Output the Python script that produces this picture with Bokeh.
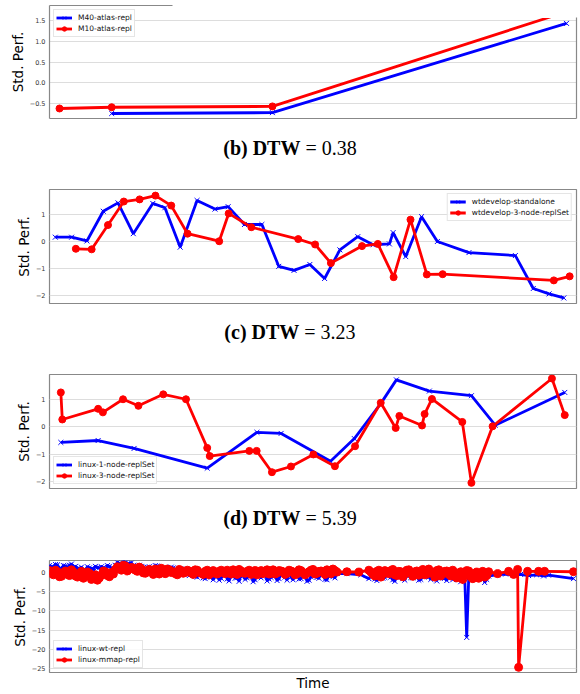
from bokeh.plotting import figure
from bokeh.models import (FixedTicker, LinearAxis, Range1d, CustomJSTickFormatter, Div)
from bokeh.layouts import column
from bokeh.embed import file_html
from bokeh.resources import INLINE

BLUE = "#0000ff"
RED = "#ff0000"
SPINE = "#888888"
GRID = "#dddddd"

# ---------------- data (time in % of run span) ----------------
# panel (a)
a_labels = ["M40-atlas-repl", "M10-atlas-repl"]
a_t_blue = [11.8, 42.3, 98.1]
a_v_blue = [-0.74, -0.72, 1.43]
a_t_red = [1.9, 11.8, 42.3, 98.1]
a_v_red = [-0.62, -0.59, -0.57, 1.71]
a_ticks = [-0.5, 0.0, 0.5, 1.0, 1.5]

# panel (b)
b_caption = ("(b) DTW", "= 0.38")
b_labels = ["wtdevelop-standalone", "wtdevelop-3-node-replSet"]
b_t_blue = [1.1, 4.2, 7.1, 10.2, 13.0, 15.9, 19.6, 21.9, 24.8, 28.0, 31.4, 33.9,
            37.0, 40.3, 43.5, 46.4, 49.4, 52.2, 55.1, 58.5, 61.4, 64.5, 65.2,
            67.6, 70.6, 73.6, 79.6, 88.4, 91.8, 94.8, 97.6]
b_v_blue = [0.16, 0.16, 0.02, 1.12, 1.43, 0.29, 1.41, 1.25, -0.21, 1.52, 1.20, 1.29,
            0.63, 0.63, -0.92, -1.07, -0.85, -1.37, -0.31, 0.18, -0.12, -0.09, 0.33,
            -0.56, 0.92, 0.0, -0.41, -0.52, -1.74, -1.94, -2.09]
b_t_red = [5.0, 8.0, 11.1, 14.1, 17.1, 20.1, 23.1, 26.2, 32.2, 34.0, 38.3, 47.2,
           50.4, 53.4, 59.3, 62.3, 65.3, 68.5, 71.6, 74.6, 95.7, 98.7]
b_v_red = [-0.27, -0.29, 0.61, 1.48, 1.56, 1.70, 1.33, 0.29, 0.01, 1.04, 0.53, 0.09,
           -0.11, -0.80, -0.17, -0.09, -1.32, 0.81, -1.22, -1.21, -1.44, -1.29]
b_ticks = [-2, -1, 0, 1]

# panel (c)
c_caption = ("(c) DTW", "= 3.23")
c_labels = ["linux-1-node-replSet", "linux-3-node-replSet"]
c_t_blue = [2.15, 9.23, 16.05, 29.93, 39.36, 43.95, 53.33, 57.85, 62.85, 65.82,
            72.08, 80.06, 84.57, 97.77]
c_v_blue = [-0.57, -0.50, -0.79, -1.51, -0.20, -0.24, -1.26, -0.43, 0.85, 1.72,
            1.31, 1.14, 0.06, 1.26]
c_t_red = [2.15, 2.43, 9.23, 10.13, 13.95, 16.87, 21.59, 25.90, 29.93, 30.41,
           37.92, 39.31, 42.21, 45.82, 50.07, 54.16, 57.98, 62.85, 65.69, 66.39,
           70.69, 71.18, 72.57, 78.33, 80.06, 84.08, 95.34, 97.77]
c_v_red = [1.26, 0.27, 0.66, 0.53, 1.01, 0.77, 1.19, 1.01, -0.77, -1.07,
           -0.88, -0.88, -1.66, -1.45, -1.01, -1.44, -0.71, 0.88, -0.04, 0.40,
           0.05, 0.47, 1.02, 0.18, -2.05, 0.02, 1.77, 0.43]
c_ticks = [-2, -1, 0, 1]

# panel (d)  (time in sample units)
d_caption = ("(d) DTW", "= 5.39")
d_labels = ["linux-wt-repl", "linux-mmap-repl"]
d_t_blue = (list(range(0, 73)) + [x + 0.5 for x in range(0, 72)] + [74.5, 78] +
            list(range(80, 105)) + [x + 0.5 for x in range(80, 104)] +
            [104.5, 105, 106, 107, 108, 109, 110] +
            [x + 0.5 for x in range(105, 110)] +
            [112.25, 114.25, 116.25, 118, 120, 122, 123.75, 125, 131.25])
d_v_blue = ([1.8, 1.4, 2.0, 1.1, 1.7, 1.9, 1.3,
             0.9, 1.4, 0.6, 1.2, 0.8, 1.3,
             1.5, 0.9, 1.6, 1.2,
             2.6, 2.1, 2.7, 2.3,
             1.8, 1.2, 1.6, 0.9, 1.5, 1.1, 1.7, 0.8, 1.3, 0.6, 1.2, 0.4, 0.9, 0.2,
             -0.8, 0.1, -1.2, -0.3, -1.6, -0.5,
             -1.9, -0.4, -1.5, 0.2, -2.2, -0.8, -1.3, 0.1, -1.8, -0.6, -2.4, -0.2,
             -1.4, 0.3, -1.7, -0.9, -2.1, -0.3, -1.2, 0.2, -1.9, -0.5, -1.6, 0.0,
             -2.0, -0.7, -1.3, 0.1, -1.8, -0.4, -1.1, -0.2] +
            [1.5, 2.1, 1.0, 1.8, 1.3, 2.2, 1.6,
             1.1, 0.7, 1.5, 1.0, 1.6, 1.2,
             1.3, 1.8, 1.0, 1.9,
             2.4, 2.8, 2.2, 2.5,
             1.5, 1.9, 1.2, 1.4, 1.0, 1.8, 1.2, 0.9, 1.0, 1.4, 0.6, 0.8, 0.1, 0.5,
             -0.4, -1.0, 0.0, -1.4, -0.8, -1.2,
             -1.1, -2.0, -0.6, -1.7, -0.3, -1.5, -2.3, -0.9, -1.4, -0.2, -1.9, -1.0,
             -0.5, -2.2, -1.3, -0.6, -1.6, -0.1, -2.0, -1.2, -0.8, -1.7, -0.4, -2.3,
             -1.1, -0.6, -1.5, -0.3, -1.9, -0.9, -1.4] +
            [-0.3, -0.6] +
            [-1.6, -0.4, -2.1, -0.8, -1.3, -0.2, -1.9, -0.6, -1.1, -2.0, -0.5, -1.4,
             -0.3, -1.8, -0.9, -1.2, -0.4, -2.2, -0.7, -1.5, -0.6, -1.9, -0.8, -2.4,
             -1.0] +
            [-0.9, -1.7, -0.3, -1.5, -0.7, -1.2, -2.3, -0.5, -1.6, -0.8, -1.3, -0.2,
             -2.0, -1.0, -0.6, -1.8, -1.1, -0.3, -1.4, -2.1, -0.7, -1.2, -0.5, -1.7] +
            [-16.9, -1.5, -0.8, -1.2, -0.5, -2.6, -0.9] +
            [-1.9, -0.6, -1.5, -0.4, -1.8] +
            [-0.6, -0.4, -0.7, -0.5, -0.8, -0.6, -0.9, -0.7, -1.6])
d_t_red = (list(range(0, 73)) + [x + 0.5 for x in range(0, 72)] + [74.5, 77.5] +
           list(range(80, 111)) + [x + 0.5 for x in range(80, 110)] +
           [112.25, 115, 116.25, 117.25, 117.5, 119.75, 122.5, 124, 131.25])
d_v_red = ([0.5, -0.6, 0.2, -1.0, 0.4, -0.8, 0.1,
            -1.2, 0.3, -0.9, -0.2, -1.3, -2.0,
            -0.7, 0.2, -1.1, -0.4,
            1.5, 0.6, 1.7, 0.9,
            1.2, 0.3, 1.0, -0.2, 0.8, -0.5, 0.6, 1.1, -0.3, 0.7, 0.2, -0.6, 0.5, 0.0,
            0.4, -0.5, 0.6, -0.2, 0.3, -0.6,
            0.5, -0.4, 0.6, -0.3, 0.2, 0.7, -0.5, 0.4, -0.2, 0.6, 0.0, -0.6, 0.5,
            0.3, -0.4, 0.7, -0.1, 0.4, -0.5, 0.6, 0.1, -0.3, 0.5, -0.6, 0.2, 0.8,
            -0.2, 0.4, -0.5, 0.3, 0.9, 0.1] +
           [-0.3, 0.6, -1.1, 0.0, -0.5, 0.7, -0.9,
            -0.4, -1.5, 0.1, -1.8, -0.6, -1.4,
            0.4, -0.8, 0.0, 0.8,
            1.1, 1.9, 0.4, 1.3,
            0.6, 1.4, -0.1, 0.5, 0.2, 0.9, -0.4, 0.4, 0.9, 0.0, -0.3, 0.8, -0.2, 0.6,
            -0.1, 0.7, 0.0, -0.5, 0.6, 0.2,
            -0.2, 0.3, 0.0, 0.6, -0.4, 0.1, 0.8, -0.1, 0.3, -0.5, 0.5, 0.2, -0.3,
            0.7, 0.0, -0.4, 0.5, 0.2, -0.2, 0.4, -0.6, 0.7, 0.0, -0.2, 0.6, -0.4,
            0.3, 0.1, 0.7, -0.3, 0.5] +
           [0.2, 0.1] +
           [0.6, -0.5, 0.3, -1.2, 0.5, -0.3, 0.8, -0.8, 0.2, -0.4, 0.7, -1.0, 0.4,
            0.0, -0.6, 0.9, -0.2, 0.5, -0.9, 0.3, -0.5, 0.6, -1.4, 0.2, -0.7, 0.4,
            -1.6, 0.1, -0.3, -1.2, 0.2] +
           [0.1, -0.9, 0.6, -0.4, 0.0, 0.5, -0.6, 0.3, -1.1, 0.6,
            -0.2, 0.2, -0.7, 0.8, -0.4, 0.1, -1.2, 0.7, -0.1, 0.4,
            -0.9, 0.0, -0.5, -1.8, 0.5, -1.1, -0.2, -1.5, 0.3, -0.8] +
           [-0.3, 0.3, -0.5, 0.8, -24.7, 0.3, 0.3, 0.3, 0.2])
d_ticks = [-25, -20, -15, -10, -5, 0]


def ordered(t, v):
    n = min(len(t), len(v))
    pairs = sorted(zip(t[:n], v[:n]), key=lambda pv: pv[0])
    return [pv[0] for pv in pairs], [pv[1] for pv in pairs]


FMT = """
const s = Math.abs(tick).toFixed(dec);
return (tick < 0) ? "\u2212" + s : s;
"""

W = 580


def make_fig(tb, vb, tr, vr, labels, xr, yr, ticks, dec, frame_left, top, fh,
             bottom, legend_loc, label_standoff, red_size=7):
    p = figure(width=W, height=top + fh + bottom,
               x_range=Range1d(*xr), y_range=Range1d(*yr),
               output_backend="svg", toolbar_location=None,
               min_border_left=frame_left, min_border_right=4,
               min_border_top=top, min_border_bottom=bottom,
               background_fill_color="white", border_fill_color="white")
    p.outline_line_color = SPINE
    p.outline_line_width = 1.2
    p.xgrid.visible = False
    p.ygrid.ticker = FixedTicker(ticks=ticks)
    p.ygrid.grid_line_color = GRID
    p.ygrid.grid_line_width = 1.2
    ya = p.yaxis[0]
    ya.ticker = FixedTicker(ticks=ticks)
    ya.formatter = CustomJSTickFormatter(args=dict(dec=dec), code=FMT)
    ya.major_label_text_font = "DejaVu Sans"
    ya.major_label_text_font_size = "6.5px"
    ya.major_label_text_color = "#333333"
    ya.major_tick_out = 0
    ya.major_tick_in = 0
    ya.minor_tick_out = 0
    ya.minor_tick_in = 0
    ya.major_label_standoff = 4
    ya.axis_line_color = None
    ya.axis_label = "Std. Perf."
    ya.axis_label_text_font = "DejaVu Sans"
    ya.axis_label_text_font_size = "13.5px"
    ya.axis_label_text_font_style = "normal"
    ya.axis_label_text_color = "black"
    ya.axis_label_standoff = label_standoff

    tb, vb = ordered(tb, vb)
    tr, vr = ordered(tr, vr)
    p.line(tb, vb, line_color=BLUE, line_width=2.8, legend_label=labels[0])
    p.scatter(tb, vb, marker="x", size=7, line_color=BLUE, line_width=1,
              legend_label=labels[0])
    p.line(tr, vr, line_color=RED, line_width=2.8, legend_label=labels[1])
    p.scatter(tr, vr, marker="circle", size=red_size, fill_color=RED, line_color=RED,
              legend_label=labels[1])

    lg = p.legend[0]
    lg.location = legend_loc
    lg.margin = 4
    lg.padding = 2
    lg.spacing = 0
    lg.glyph_width = 16
    lg.glyph_height = 11
    lg.label_height = 11
    lg.label_standoff = 6
    lg.label_text_font = "DejaVu Sans"
    lg.label_text_font_size = "7.5px"
    lg.label_text_color = "#111111"
    lg.border_line_color = "#cccccc"
    lg.border_line_width = 1
    lg.background_fill_alpha = 0.85
    return p


def caption(parts):
    bold, rest = parts
    return Div(text='<span style="font-weight:bold">%s</span> %s' % (bold, rest),
               width=W, height=20, margin=0,
               styles={"font-family": "'Liberation Serif', serif",
                       "font-size": "20px", "line-height": "20px",
                       "text-align": "center", "color": "black"})


def bare_axis(bounds):
    return LinearAxis(ticker=FixedTicker(ticks=[]), bounds=bounds,
                      axis_line_color=SPINE, axis_line_width=1.2,
                      major_tick_out=0, minor_tick_out=0, major_label_standoff=0)


# ---------------- panel (a): its top edge is cropped ----------------
a_xr = (0, 100)
a_yr = (-0.861, 1.861)
cut_x = 23.3     # where the cropped top edge stops
cut_y = 1.56
p1 = make_fig(a_t_blue, a_v_blue, a_t_red, a_v_red, a_labels, a_xr, a_yr,
              a_ticks, 1, 49, 5, 113, 20, "top_left", 1)
p1.outline_line_color = None
p1.yaxis[0].axis_line_color = SPINE
p1.yaxis[0].axis_line_width = 1.2
xa = p1.xaxis[0]
xa.ticker = FixedTicker(ticks=[])
xa.axis_line_color = SPINE
xa.axis_line_width = 1.2
xa.major_tick_out = 0
xa.minor_tick_out = 0
xa.major_label_standoff = 0
p1.add_layout(bare_axis((a_yr[0], cut_y)), "right")
p1.add_layout(bare_axis((a_xr[0], cut_x)), "above")
# white mask over the cropped corner
p1.quad(left=[cut_x], right=[a_xr[1]], bottom=[cut_y], top=[a_yr[1]],
        fill_color="white", line_color=None)

# ---------------- panel (b) ----------------
p2 = make_fig(b_t_blue, b_v_blue, b_t_red, b_v_red, b_labels, (0, 100),
              (-2.296, 1.926), b_ticks, 0, 43, 31, 114, 19, "top_right", 1)
p2.xaxis.visible = False

# ---------------- panel (c) ----------------
p3 = make_fig(c_t_blue, c_v_blue, c_t_red, c_v_red, c_labels, (0, 100),
              (-2.256, 1.916), c_ticks, 0, 42, 32, 114, 20, "bottom_left", 1)
p3.xaxis.visible = False

# ---------------- panel (d) ----------------
p4 = make_fig(d_t_blue, d_v_blue, d_t_red, d_v_red, d_labels, (0, 132),
              (-26.04, 3.125), d_ticks, 0, 48, 32, 112, 22, "bottom_left", 1,
              red_size=8)
xa4 = p4.xaxis[0]
xa4.ticker = FixedTicker(ticks=[])
xa4.axis_line_color = None
xa4.major_tick_out = 0
xa4.minor_tick_out = 0
xa4.major_label_standoff = 0
xa4.axis_label = "Time"
xa4.axis_label_standoff = 2
xa4.axis_label_text_font = "DejaVu Sans"
xa4.axis_label_text_font_size = "13.5px"
xa4.axis_label_text_font_style = "normal"
xa4.axis_label_text_color = "black"

layout = column(p1, caption(b_caption), p2, caption(c_caption), p3,
                caption(d_caption), p4, spacing=0)

open("out.html", "w").write(file_html(layout, INLINE))
